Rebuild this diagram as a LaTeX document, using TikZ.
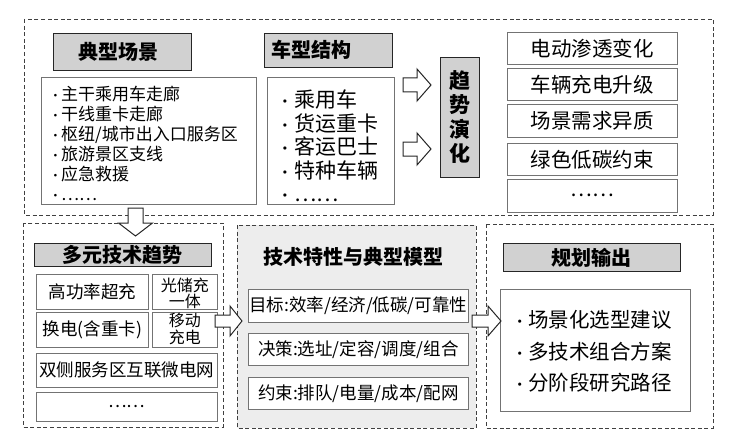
\documentclass[tikz,border=0pt]{standalone}
\usepackage{fontspec}
\usetikzlibrary{calc}
\setmainfont{Noto Sans CJK SC}
\newcommand\fs[1]{\fontsize{#1}{#1}\selectfont}
\newcommand\bu[1]{\makebox[#1][l]{\scalebox{0.75}{•}}}
\begin{document}
\begin{tikzpicture}[x=1pt,y=-1pt,
  dbox/.style={draw=black!75, dash pattern=on 4pt off 2.6pt, line width=0.7pt},
  hbox/.style={draw=black!85, fill=black!18, line width=0.9pt, inner sep=0pt},
  lbox/.style={draw=black!55, fill=white, line width=0.6pt, inner sep=0pt},
  arr/.style={draw=black!85, fill=white, line width=1pt, line join=miter},
  htxt/.style={font=\fs{20}\bfseries, inner sep=0pt},
  btxt/.style={font=\fs{20.5}, inner sep=0pt},
  stxt/.style={font=\fs{17.5}, inner sep=0pt}]
\useasboundingbox (0,0) rectangle (742,436);
\fill[white] (0,0) rectangle (742,436);

% ---------- top region ----------
\draw[dbox] (24,19) rectangle (713,215);
\node[hbox, anchor=north west, minimum width=138pt, minimum height=37pt] (h1) at (53,33) {};
\node[htxt] (h1t) at (118,51.5) {典型场景};
\node[lbox, anchor=north west, minimum width=215pt, minimum height=127pt] (l1) at (41,77) {};
\node[anchor=west, align=left, inner sep=0pt, font=\fontsize{17}{20}\selectfont] (l1t) at (49,143.5)
 {\bu{12pt}主干乘用车走廊\\\bu{12pt}干线重卡走廊\\\bu{12pt}枢纽/城市出入口服务区\\\bu{12pt}旅游景区支线\\\bu{12pt}应急救援\\\bu{12pt}……};

\node[hbox, anchor=north west, minimum width=128pt, minimum height=34pt] (h2) at (264,33) {};
\node[htxt, anchor=west] (h2t) at (271,50) {车型结构};
\node[lbox, anchor=north west, minimum width=127pt, minimum height=127pt] (l2) at (267,77) {};
\node[anchor=west, align=left, inner sep=0pt, font=\fontsize{21}{23.6}\selectfont] (l2t) at (277,146)
 {\bu{17pt}乘用车\\\bu{17pt}货运重卡\\\bu{17pt}客运巴士\\\bu{17pt}特种车辆\\\bu{17pt}……};

\node[hbox, anchor=north west, minimum width=39pt, minimum height=120pt] (trend) at (440,57) {};
\node[align=center, inner sep=0pt, font=\fontsize{21}{24.5}\selectfont\bfseries] (trendt) at (459.5,117) {趋\\势\\演\\化};

\node[lbox, anchor=north west, minimum width=170pt, minimum height=32pt] (r1) at (507,32) {};
\node[btxt] at (r1.center) {电动渗透变化};
\node[lbox, anchor=north west, minimum width=170pt, minimum height=32pt] (r2) at (507,68) {};
\node[btxt] at (r2.center) {车辆充电升级};
\node[lbox, anchor=north west, minimum width=170pt, minimum height=33pt] (r3) at (507,104) {};
\node[btxt] at (r3.center) {场景需求异质};
\node[lbox, anchor=north west, minimum width=170pt, minimum height=32pt] (r4) at (507,143) {};
\node[btxt] at (r4.center) {绿色低碳约束};
\node[lbox, anchor=north west, minimum width=170pt, minimum height=33pt] (r5) at (507,179) {};
\node[btxt] at (r5.center) {……};

% ---------- bottom left ----------
\draw[dbox] (23,223) rectangle (223,427);
\node[hbox, anchor=north west, minimum width=177pt, minimum height=23pt] (h3) at (34,243) {};
\node[htxt] at (h3.center) {多元技术趋势};
\node[lbox, anchor=north west, minimum width=112pt, minimum height=35pt] (g1) at (36,274) {};
\node[stxt] at (g1.center) {高功率超充};
\node[lbox, anchor=north west, minimum width=65pt, minimum height=35pt] (g2) at (152,274) {};
\node[align=center, inner sep=0pt, font=\fontsize{16}{16}\selectfont] at ($(g2.center)+(0,1.5)$) {光储充\\一体};
\node[lbox, anchor=north west, minimum width=112pt, minimum height=35pt] (g3) at (36,312) {};
\node[stxt] at (g3.center) {换电(含重卡)};
\node[lbox, anchor=north west, minimum width=65pt, minimum height=35pt] (g4) at (152,312) {};
\node[align=center, inner sep=0pt, font=\fontsize{16}{17}\selectfont] at ($(g4.center)+(0,-1)$) {移动\\充电};
\node[lbox, anchor=north west, minimum width=181pt, minimum height=34pt] (g5) at (36,353) {};
\node[stxt] at (g5.center) {双侧服务区互联微电网};
\node[lbox, anchor=north west, minimum width=181pt, minimum height=29pt] (g6) at (36,392) {};
\node[stxt] at (g6.center) {……};

% ---------- bottom middle ----------
\draw[dbox, fill=black!7] (237,225) rectangle (476,428);
\node[htxt] (mt) at (353,257) {技术特性与典型模型};
\node[lbox, anchor=north west, minimum width=220pt, minimum height=33pt] (m1) at (248,289) {};
\node[stxt] at (m1.center) {目标:效率/经济/低碳/可靠性};
\node[lbox, anchor=north west, minimum width=220pt, minimum height=32pt] (m2) at (248,333) {};
\node[stxt] at (m2.center) {决策:选址/定容/调度/组合};
\node[lbox, anchor=north west, minimum width=220pt, minimum height=32pt] (m3) at (248,377) {};
\node[stxt] at (m3.center) {约束:排队/电量/成本/配网};

% ---------- bottom right ----------
\draw[dbox] (486,224) rectangle (713,428);
\node[hbox, anchor=north west, minimum width=177pt, minimum height=28pt] (h4) at (503,243) {};
\node[htxt] at (h4.center) {规划输出};
\node[lbox, anchor=north west, minimum width=190pt, minimum height=122pt] (o1) at (500,289) {};
\node[anchor=west, align=left, inner sep=0pt, font=\fontsize{20.5}{31.5}\selectfont] (o1t) at (512,351.5)
 {\bu{16pt}场景化选型建议\\\bu{16pt}多技术组合方案\\\bu{16pt}分阶段研究路径};

% ---------- block arrows ----------
\draw[arr] (431,85) -- ++(-14,-16) -- ++(0,9) -- ++(-14,0) -- ++(0,14) -- ++(14,0) -- ++(0,9) -- cycle;
\draw[arr] (431,149) -- ++(-14,-16) -- ++(0,9) -- ++(-14,0) -- ++(0,14) -- ++(14,0) -- ++(0,9) -- cycle;
\draw[arr] (135.5,236) -- ++(-17,-13) -- ++(9.5,0) -- ++(0,-15) -- ++(15,0) -- ++(0,15) -- ++(9.5,0) -- cycle;
\draw[arr] (242,321) -- ++(-12,-15) -- ++(0,9) -- ++(-15,0) -- ++(0,12) -- ++(15,0) -- ++(0,9) -- cycle;
\draw[arr] (501,321) -- ++(-13,-15) -- ++(0,9) -- ++(-16,0) -- ++(0,12) -- ++(16,0) -- ++(0,9) -- cycle;
\end{tikzpicture}
\end{document}
